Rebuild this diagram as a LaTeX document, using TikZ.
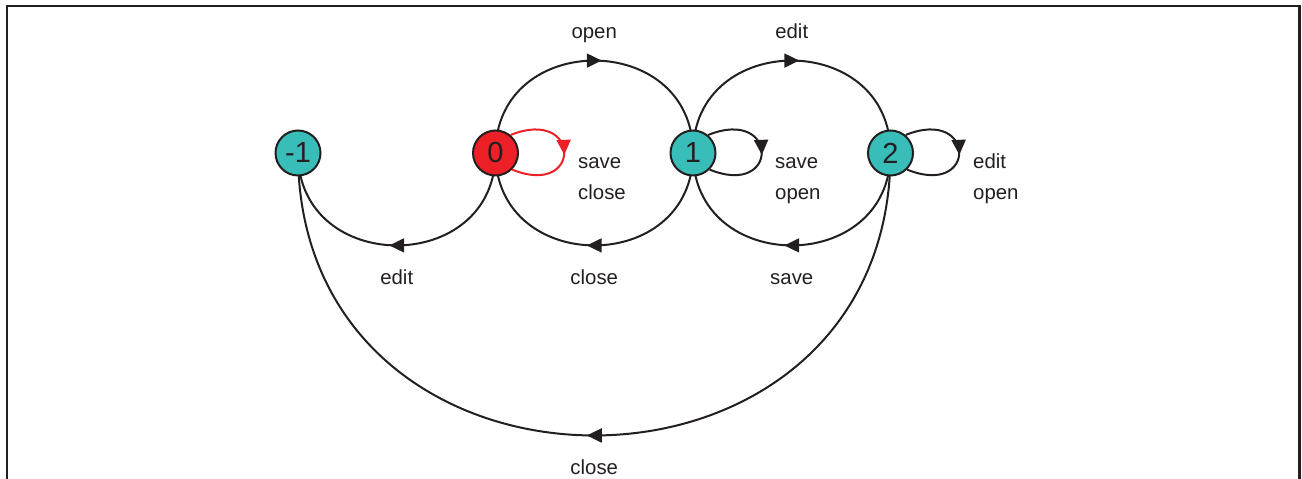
\documentclass[tikz,border=0pt]{standalone}
\usepackage{fontspec}
\setmainfont{Liberation Sans}
\usetikzlibrary{arrows.meta}
\usetikzlibrary{decorations.markings}
\usetikzlibrary{backgrounds}

\definecolor{inkblack}{RGB}{35,31,32}
\definecolor{stateteal}{RGB}{56,189,184}
\definecolor{startred}{RGB}{237,32,39}

\tikzset{
  state/.style = {circle, draw = inkblack, line width = 0.04cm, fill = stateteal,
    minimum size = 0.9cm, inner sep = 0pt, text = inkblack,
    font = \fontsize{16.5}{16.5}\selectfont},
  midarrow/.style = {postaction = {decorate, decoration = {markings,
    mark = at position 0.5 with {\arrow[xshift = 0.15cm]{Triangle[length = 0.3cm, width = 0.28cm]}}}}},
  looparrow/.style = {postaction = {decorate, decoration = {markings,
    mark = at position 0.5 with {\arrow[xshift = 0.06cm]{Triangle[length = 0.3cm, width = 0.28cm]}}}}},
  trans/.style = {draw = inkblack, color = inkblack, line width = 0.04cm, midarrow},
  selfloop/.style = {draw = inkblack, color = inkblack, line width = 0.04cm, looparrow},
  lab/.style = {font = \fontsize{11.6}{17.6}\selectfont, text = inkblack},
  toplab/.style = {lab, anchor = base, yshift = 0.45cm},
  botlab/.style = {lab, anchor = base, yshift = -0.78cm},
  looplab/.style = {lab, anchor = base west, align = left}
}

\begin{document}
\begin{tikzpicture}[x = 0.02cm, y = 0.02cm]
  \useasboundingbox (0,0) rectangle (1302,-479);
  % frame, open at the bottom
  \draw[line width = 0.046cm, inkblack] (6.7,-480) -- (6.7,-6.3) -- (1299.5,-6.3) -- (1299.5,-480);

  % states
  \node[state] (nm1) at (298,-153) {-1};
  \node[state, fill = startred] (n0) at (495.5,-153) {0};
  \node[state] (n1) at (693,-153) {1};
  \node[state] (n2) at (890.5,-153) {2};

  \begin{pgfonlayer}{background}
    % transitions between states
    \path[trans] (n0.center) to[out = 90, in = 90, looseness = 1.6] node[toplab] {open} (n1.center);
    \path[trans] (n1.center) to[out = 90, in = 90, looseness = 1.6] node[toplab] {edit} (n2.center);
    \path[trans] (n1.center) to[out = -90, in = -90, looseness = 1.6] node[botlab] {close} (n0.center);
    \path[trans] (n2.center) to[out = -90, in = -90, looseness = 1.6] node[botlab] {save} (n1.center);
    \path[trans] (n0.center) to[out = -90, in = -90, looseness = 1.6] node[botlab] {edit} (nm1.center);
    \path[trans] (n2.center) to[out = -90, in = -90, looseness = 1.63] node[botlab] {close} (nm1.center);
  \end{pgfonlayer}

  % self loops
  \path[selfloop, color = startred] (n0.50) .. controls +(22:76) and +(-22:76) .. (n0.-45);
  \path[selfloop] (n1.50) .. controls +(22:76) and +(-22:76) .. (n1.-45);
  \path[selfloop] (n2.50) .. controls +(22:76) and +(-22:76) .. (n2.-45);

  \node[looplab] (l0) at (572,-199.3) {save\\close};
  \node[looplab] (l1) at (769,-199.3) {save\\open};
  \node[looplab] (l2) at (967,-199.3) {edit\\open};
\end{tikzpicture}
\end{document}
